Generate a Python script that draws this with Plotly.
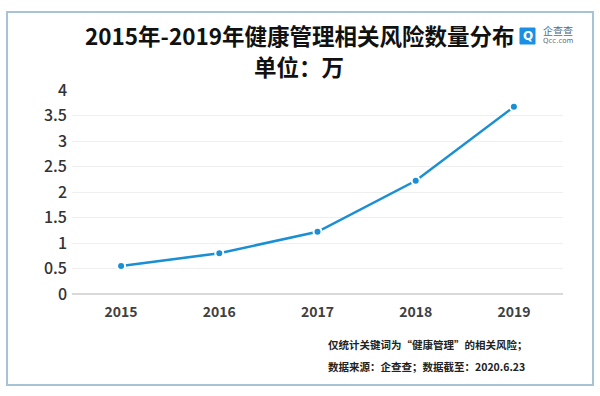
import plotly.graph_objects as go

years = ["2015", "2016", "2017", "2018", "2019"]
values = [0.55, 0.80, 1.22, 2.22, 3.67]
y_ticks = [0, 0.5, 1, 1.5, 2, 2.5, 3, 3.5, 4]

title_line1 = "2015年-2019年健康管理相关风险数量分布"
title_line2 = "单位：万"
note_line1 = "仅统计关键词为“健康管理”的相关风险；"
note_line2 = "数据来源：企查查；数据截至：2020.6.23"

W, H = 600, 396
L, R, T, B = 72, 37, 90, 102
PW, PH = W - L - R, H - T - B

def px(x):
    return (x - L) / PW

def py(y):
    return (H - B - y) / PH

FONT = "Noto Sans CJK SC"

fig = go.Figure()
fig.add_trace(go.Scatter(
    x=years, y=values, mode="lines+markers",
    line=dict(color="#1A8FD3", width=2.5),
    marker=dict(size=8, color="#1A8FD3", line=dict(color="white", width=2)),
    showlegend=False, hoverinfo="x+y",
))

fig.update_layout(
    width=W, height=H,
    margin=dict(l=L, r=R, t=T, b=B),
    paper_bgcolor="white", plot_bgcolor="white",
    font=dict(family=FONT, color="#333333"),
    xaxis=dict(
        type="category", range=[-0.5, 4.5], showgrid=False,
        showline=False, zeroline=False, ticks="",
        tickfont=dict(size=14, color="#404040", family=FONT, weight="bold"),
        ticklabelstandoff=8,
    ),
    yaxis=dict(
        range=[0, 4], tickvals=y_ticks, ticktext=[f"{v:g}" for v in y_ticks],
        showgrid=True, gridcolor="#efefef", gridwidth=1,
        zeroline=True, zerolinecolor="#d9d9d9", zerolinewidth=1.5,
        showline=False, ticks="",
        tickfont=dict(size=16, color="#333333", family=FONT, weight=500),
        ticklabelstandoff=4,
    ),
)

shapes = [
    dict(type="rect", xref="paper", yref="paper",
         x0=px(7), x1=px(593), y0=py(385), y1=py(12),
         line=dict(color="#a9c3d6", width=2), fillcolor="rgba(0,0,0,0)", layer="below"),
    dict(type="rect", xref="paper", yref="paper",
         x0=px(520), x1=px(535), y0=py(44), y1=py(28),
         line=dict(color="#1a8fe3", width=1), fillcolor="#1a8fe3"),
]
fig.update_layout(shapes=shapes)

annotations = [
    dict(text=f"<b>{title_line1}</b>", x=px(300), y=py(35), xref="paper", yref="paper",
         showarrow=False, xanchor="center", yanchor="middle",
         font=dict(size=22.5, color="#111111", family=FONT)),
    dict(text=f"<b>{title_line2}</b>", x=px(299), y=py(66), xref="paper", yref="paper",
         showarrow=False, xanchor="center", yanchor="middle",
         font=dict(size=22.5, color="#111111", family=FONT)),
    dict(text="<b>Q</b>", x=px(527.5), y=py(36), xref="paper", yref="paper",
         showarrow=False, xanchor="center", yanchor="middle",
         font=dict(size=12, color="white", family="DejaVu Sans")),
    dict(text="企查查", x=px(541), y=py(31), xref="paper", yref="paper",
         showarrow=False, xanchor="left", yanchor="middle",
         font=dict(size=10, color="#5a6b7d", family=FONT)),
    dict(text="Qcc.com", x=px(541), y=py(41), xref="paper", yref="paper",
         showarrow=False, xanchor="left", yanchor="middle",
         font=dict(size=7, color="#5a6b7d", family="DejaVu Sans")),
    dict(text=f"<b>{note_line1}</b>", x=px(326), y=py(344), xref="paper", yref="paper",
         showarrow=False, xanchor="left", yanchor="middle",
         font=dict(size=10.5, color="#222222", family=FONT)),
    dict(text=f"<b>{note_line2}</b>", x=px(326), y=py(366), xref="paper", yref="paper",
         showarrow=False, xanchor="left", yanchor="middle",
         font=dict(size=10.5, color="#222222", family=FONT)),
]
fig.update_layout(annotations=annotations)

fig.write_html("out.html", config={"displayModeBar": False},
               post_script="document.body.style.margin='0';document.body.style.overflow='hidden';")
